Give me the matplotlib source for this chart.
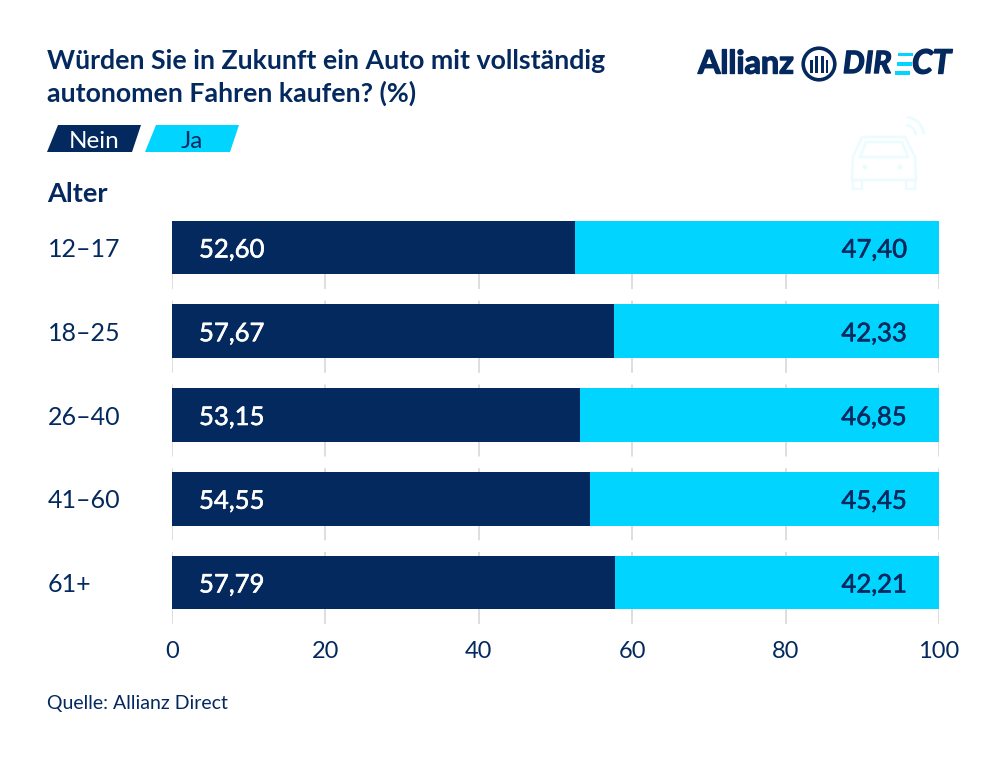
import matplotlib
matplotlib.use("Agg")
import matplotlib.pyplot as plt
import matplotlib.patheffects as pe
from matplotlib.patches import Polygon, Circle, Rectangle, Arc
from matplotlib.transforms import Affine2D

groups = ["12–17", "18–25", "26–40", "41–60", "61+"]
nein = [52.60, 57.67, 53.15, 54.55, 57.79]
ja = [47.40, 42.33, 46.85, 45.45, 42.21]
xticks = [0, 20, 40, 60, 80, 100]
title_lines = ["Würden Sie in Zukunft ein Auto mit vollständig", "autonomen Fahren kaufen? (%)"]
source = "Quelle: Allianz Direct"

NAVY = "#04295e"
CYAN = "#00d4ff"
W, H = 1000, 760
plt.rcParams["font.family"] = ["Lato", "DejaVu Sans"]
plt.rcParams["lines.scale_dashes"] = False

fig = plt.figure(figsize=(10, 7.6), dpi=100, facecolor="white")
ax = fig.add_axes([172 / W, 1 - 624.4 / H, (939 - 172) / W, (624.4 - 220.7) / H])

# pixel coordinates of the overlay -> figure
px = Affine2D().scale(1 / W, -1 / H).translate(0, 1) + fig.transFigure


def fig_text(x, y, s, **kw):
    return fig.text(x, y, s, transform=px, **kw)


ax.barh(groups, nein, height=0.64, color=NAVY, zorder=3)
ax.barh(groups, ja, left=nein, height=0.64, color=CYAN, zorder=3)
ax.set_xlim(0, 100)
ax.set_ylim(4.5, -0.32)
ax.set_xticks(xticks)
ax.tick_params(axis="x", length=0, pad=12, labelsize=17, labelcolor=NAVY)
ax.tick_params(axis="y", length=0, pad=89.5, labelsize=18, labelcolor=NAVY)
for lab in ax.get_yticklabels():
    lab.set_ha("left")
ax.grid(axis="x", color="#dedede", lw=1.4, ls=(0, (51.84, 8.46)), zorder=0)
for sp in ax.spines.values():
    sp.set_visible(False)

medium = [pe.withStroke(linewidth=0.4, foreground="white")]
medium_dark = [pe.withStroke(linewidth=0.4, foreground=NAVY)]
for i, (n, j) in enumerate(zip(nein, ja)):
    ax.annotate(f"{n:.2f}".replace(".", ","), (0, i), xytext=(27, 0), textcoords="offset pixels",
                color="white", fontsize=18.5, va="center_baseline", ha="left", zorder=5, path_effects=medium)
    ax.annotate(f"{j:.2f}".replace(".", ","), (100, i), xytext=(-32, 0), textcoords="offset pixels",
                color=NAVY, fontsize=18.5, va="center_baseline", ha="right", zorder=5, path_effects=medium_dark)

# title, group header, source
fig_text(47, 61, title_lines[0], color=NAVY, fontsize=19.3, fontweight="bold", va="center")
fig_text(47, 93, title_lines[1], color=NAVY, fontsize=19.3, fontweight="bold", va="center")
fig_text(47, 194, "Alter", color=NAVY, fontsize=19.5, fontweight="bold", va="center")
fig_text(47, 704, source, color=NAVY, fontsize=14, va="center")

# legend chips
for pts, col in [([(47, 152), (58, 125), (141, 125), (132, 152)], NAVY),
                 ([(145, 152), (156, 125), (239, 125), (230, 152)], CYAN)]:
    fig.add_artist(Polygon(pts, closed=True, transform=px, fc=col, ec="none"))
fig_text(94, 141, "Nein", color="white", fontsize=17.5, ha="center", va="center")
fig_text(192, 141, "Ja", color=NAVY, fontsize=17.5, ha="center", va="center")

# logo
heavy = [pe.withStroke(linewidth=1.0, foreground=NAVY)]
fig_text(698, 64, "Allianz", color=NAVY, fontsize=23.2, fontweight="bold", va="center", ha="left", path_effects=heavy)
fig.add_artist(Circle((819, 64), 15.8, transform=px, fc="none", ec=NAVY, lw=2.6))
for x0, y0, w, h in [(810, 60, 2.6, 13), (814.5, 56, 3, 17), (820.5, 56, 3, 17), (825.5, 60, 2.6, 13)]:
    fig.add_artist(Rectangle((x0, y0), w, h, transform=px, fc=NAVY, ec="none"))
fig_text(843, 64, "DIR", color=NAVY, fontsize=22, fontweight="bold", style="italic", va="center", ha="left", path_effects=heavy)
fig_text(912, 64, "CT", color=NAVY, fontsize=24, fontweight="bold", style="italic", va="center", ha="left", path_effects=heavy)
for y0, x0 in [(52.5, 898), (62, 897), (71, 895)]:
    fig.add_artist(Rectangle((x0, y0), 15, 3.6, transform=px, fc=CYAN, ec="none"))

# faint car icon
ICON = "#ecfcfe"
body = [(862, 137), (905, 137), (915, 157), (916, 180), (852, 180), (853, 157)]
fig.add_artist(Polygon(body, closed=True, transform=px, fc="none", ec=ICON, lw=1.9))
fig.add_artist(Polygon([(860, 157), (866, 142), (902, 142), (908, 157)], closed=True, transform=px, fc="none", ec=ICON, lw=1.9))
for x0 in (853, 906):
    fig.add_artist(Rectangle((x0, 180), 9, 9, transform=px, fc="none", ec=ICON, lw=1.7))
for x0 in (865, 900):
    fig.add_artist(Circle((x0, 167), 2.5, transform=px, fc=ICON, ec="none"))
for r in (11, 19):
    fig.add_artist(Arc((905, 136), 2 * r, 2 * r, theta1=-85, theta2=-5, transform=px, ec=ICON, lw=2))

fig.savefig("out.png", dpi=100, facecolor="white")
